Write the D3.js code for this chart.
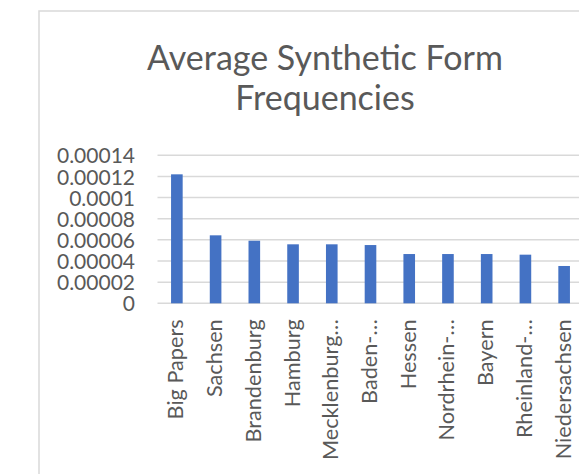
<!DOCTYPE html>
<html>
<head>
<meta charset="utf-8">
<script src="https://cdn.jsdelivr.net/npm/d3@7"></script>
<style>
  html, body { margin: 0; padding: 0; background: #fff; overflow: hidden; }
  svg { display: block; }
  text { font-family: Lato, "Open Sans", sans-serif; fill: #595959; }
</style>
</head>
<body>
<svg id="chart" width="579" height="474"></svg>
<script>
const categories = ["Big Papers", "Sachsen", "Brandenburg", "Hamburg", "Mecklenburg…", "Baden-…",
                    "Hessen", "Nordrhein-…", "Bayern", "Rheinland-…", "Niedersachsen"];
const values = [0.000122, 0.0000643, 0.0000592, 0.0000558, 0.0000558, 0.0000551,
                0.0000466, 0.0000466, 0.0000466, 0.000046, 0.0000353];
const yTicks = [0, 0.00002, 0.00004, 0.00006, 0.00008, 0.0001, 0.00012, 0.00014];
const yTickLabels = ["0", "0.00002", "0.00004", "0.00006", "0.00008", "0.0001", "0.00012", "0.00014"];
const titleLines = ["Average Synthetic Form", "Frequencies"];

const svg = d3.select("#chart");

// chart frame (extends past the right/bottom of the view)
svg.append("rect")
  .attr("x", 39).attr("y", 11)
  .attr("width", 572).attr("height", 520)
  .attr("fill", "#fff")
  .attr("stroke", "#d9d9d9").attr("stroke-width", 1.5);

const plot = { left: 157.5, right: 583.5, top: 155.3, bottom: 303.3 };

const x = d3.scaleBand()
  .domain(categories)
  .range([plot.left, plot.right])
  .paddingInner(0.7)
  .paddingOuter(0.35);

const y = d3.scaleLinear()
  .domain([0, 0.00014])
  .range([plot.bottom, plot.top]);

// title
svg.append("g").selectAll("text")
  .data(titleLines)
  .join("text")
  .attr("x", 325)
  .attr("y", (d, i) => 70 + i * 40)
  .attr("text-anchor", "middle")
  .style("font-size", "34px")
  .text(d => d);

// gridlines
svg.append("g").selectAll("line")
  .data(yTicks)
  .join("line")
  .attr("x1", plot.left).attr("x2", plot.right + 10)
  .attr("y1", d => y(d)).attr("y2", d => y(d))
  .attr("stroke", "#d9d9d9").attr("stroke-width", 1.5);

// y axis labels
const yAxis = d3.axisLeft(y)
  .tickValues(yTicks)
  .tickFormat((d, i) => yTickLabels[i])
  .tickSize(0)
  .tickPadding(0);
const gy = svg.append("g").attr("transform", `translate(135,0)`).call(yAxis);
gy.select(".domain").remove();
gy.selectAll("text")
  .style("font-family", "Lato, sans-serif")
  .style("font-size", "21px")
  .attr("fill", "#595959")
  .attr("dy", "0.36em");

// bars
svg.append("g").selectAll("rect")
  .data(values)
  .join("rect")
  .attr("x", (d, i) => x(categories[i]))
  .attr("width", x.bandwidth())
  .attr("y", d => y(d))
  .attr("height", d => y(0) - y(d))
  .attr("fill", "#4472c4");

// x axis labels
const xAxis = d3.axisBottom(x).tickSize(0).tickPadding(0);
const gx = svg.append("g").attr("transform", `translate(0,${plot.bottom})`).call(xAxis);
gx.select(".domain").remove();
gx.selectAll("text")
  .style("font-family", "Lato, sans-serif")
  .style("font-size", "21.7px")
  .attr("fill", "#595959")
  .attr("text-anchor", "end")
  .attr("transform", "translate(0,16) rotate(-90)")
  .attr("x", 0).attr("y", 0)
  .attr("dy", "0.3em");
</script>
</body>
</html>
